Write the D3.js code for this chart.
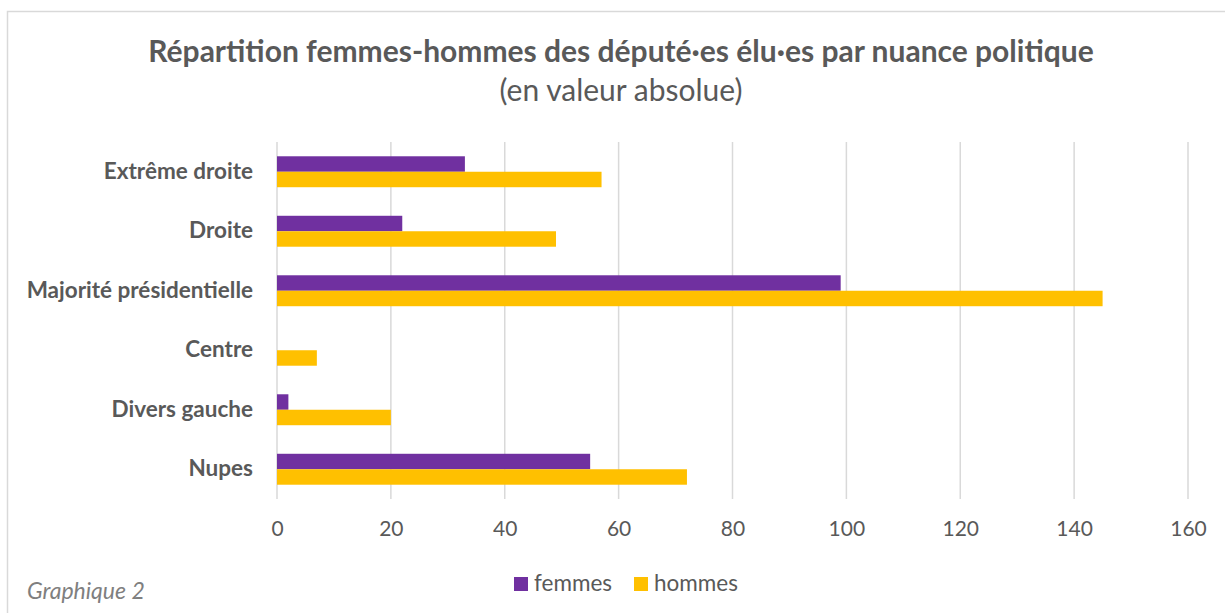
<!DOCTYPE html>
<html>
<head>
<meta charset="utf-8">
<script src="https://cdn.jsdelivr.net/npm/d3@7"></script>
<style>
  body { margin: 0; background: #fff; }
  text { font-family: Lato, "Open Sans", sans-serif; fill: #595959; }
</style>
</head>
<body>
<div id="chart"></div>
<script>
// categories, top to bottom
var categories = ["Extrême droite", "Droite", "Majorité présidentielle", "Centre", "Divers gauche", "Nupes"];
var femmes = [33, 22, 99, 0, 2, 55];
var hommes = [57, 49, 145, 7, 20, 72];
var seriesNames = ["femmes", "hommes"];
var xTicks = [0, 20, 40, 60, 80, 100, 120, 140, 160];

var W = 1225, H = 613;
var margin = {top: 142, right: 37, bottom: 114, left: 277};
var width = W - margin.left - margin.right,
    height = H - margin.top - margin.bottom;

var colors = {femmes: "#7030A0", hommes: "#FFC000"};

var svg = d3.select("#chart")
    .append("svg")
    .attr("width", W)
    .attr("height", H);

// frame
svg.append("path")
    .attr("d", "M7.5," + H + " V11.5 H" + W)
    .attr("fill", "none")
    .attr("stroke", "#d9d9d9")
    .attr("stroke-width", 1.5);

// titles
svg.append("text")
    .attr("x", 621).attr("y", 62)
    .attr("text-anchor", "middle")
    .style("font-size", "30px")
    .style("font-weight", "bold")
    .text("Répartition femmes-hommes des député·es élu·es par nuance politique");

svg.append("text")
    .attr("x", 621).attr("y", 101)
    .attr("text-anchor", "middle")
    .style("font-size", "30px")
    .text("(en valeur absolue)");

var g = svg.append("g")
    .attr("transform", "translate(" + margin.left + "," + margin.top + ")");

var x = d3.scaleLinear()
    .domain([0, 160])
    .range([0, width]);

var y = d3.scaleBand()
    .domain(categories)
    .range([0, height])
    .paddingInner(0.48)
    .paddingOuter(0.24);

var y1 = d3.scaleBand()
    .domain(seriesNames)
    .range([0, y.bandwidth()]);

// gridlines
g.append("g")
    .selectAll("line")
    .data(xTicks)
    .enter()
    .append("line")
    .attr("x1", function (d) { return x(d); })
    .attr("x2", function (d) { return x(d); })
    .attr("y1", 0)
    .attr("y2", height)
    .attr("stroke", "#d9d9d9")
    .attr("stroke-width", 1.5);

// bars
var rows = categories.map(function (c, i) {
    return {cat: c, femmes: femmes[i], hommes: hommes[i]};
});

var groups = g.append("g")
    .selectAll("g")
    .data(rows)
    .enter()
    .append("g")
    .attr("transform", function (d) { return "translate(0," + y(d.cat) + ")"; });

groups.selectAll("rect")
    .data(function (d) { return seriesNames.map(function (s) { return {key: s, value: d[s]}; }); })
    .enter()
    .append("rect")
    .attr("x", 0)
    .attr("y", function (d) { return y1(d.key); })
    .attr("width", function (d) { return x(d.value); })
    .attr("height", y1.bandwidth())
    .attr("fill", function (d) { return colors[d.key]; });

// x axis labels
var xAxis = g.append("g")
    .attr("transform", "translate(0," + height + ")")
    .call(d3.axisBottom(x).tickValues(xTicks).tickSize(0).tickPadding(22));
xAxis.select(".domain").remove();
xAxis.selectAll("text")
    .style("font-size", "21px")
    .attr("fill", "#595959");

// y axis labels
var yAxis = g.append("g")
    .call(d3.axisLeft(y).tickSize(0).tickPadding(24));
yAxis.select(".domain").remove();
yAxis.selectAll("text")
    .style("font-size", "22.5px")
    .style("font-weight", "bold")
    .attr("fill", "#595959");

// legend
var legend = svg.append("g")
    .attr("transform", "translate(514,577)");
var legendX = [0, 120];
seriesNames.forEach(function (s, i) {
    var item = legend.append("g").attr("transform", "translate(" + legendX[i] + ",0)");
    item.append("rect")
        .attr("width", 14).attr("height", 14)
        .attr("fill", colors[s]);
    item.append("text")
        .attr("x", 20).attr("y", 14)
        .style("font-size", "22.5px")
        .text(s);
});

// caption
svg.append("text")
    .attr("x", 27).attr("y", 599)
    .style("font-size", "23px")
    .style("font-style", "italic")
    .style("fill", "#7f7f7f")
    .text("Graphique 2");
</script>
</body>
</html>
